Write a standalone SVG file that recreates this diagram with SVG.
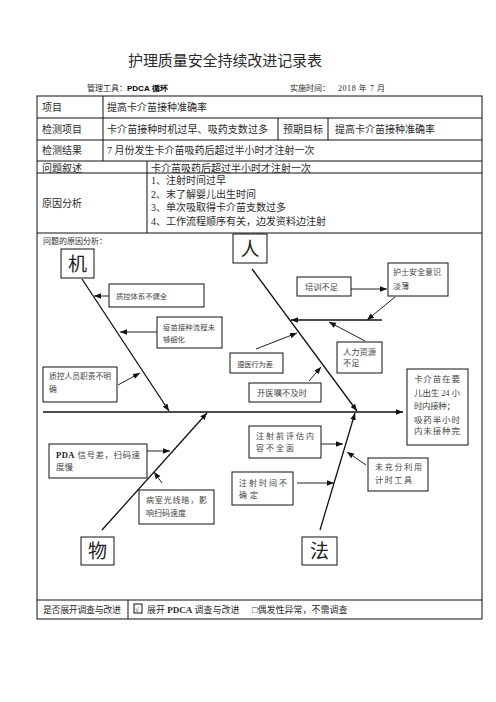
<svg xmlns="http://www.w3.org/2000/svg" width="496" height="702" viewBox="0 0 496 702">
<style>
.t{font-family:"Liberation Serif","Noto Sans CJK SC",serif;fill:#2a2a2a}
.tb{font-size:10px}
.bx{fill:#fff;stroke:#111;stroke-width:1}
.bt{font-family:"Liberation Serif","Noto Sans CJK SC",serif;fill:#444}
.big{font-family:"Liberation Serif","Noto Sans CJK SC",serif;font-size:19px;fill:#222;text-anchor:middle}
.ln{stroke:#111;stroke-width:1;fill:none}
.bone{stroke:#111;stroke-width:1.3;fill:none}
.ar{stroke:#222;stroke-width:1;fill:none;marker-end:url(#ah)}
</style>
<defs>
<marker id="ah" viewBox="0 0 10 10" refX="10" refY="5" markerWidth="7" markerHeight="7" markerUnits="userSpaceOnUse" orient="auto"><path d="M0,1 L10,5 L0,9 z" fill="#111"/></marker>
</defs>
<rect width="496" height="702" fill="#fff"/>
<g id="header">
<text class="t" x="128" y="66" font-size="15" textLength="194">护理质量安全持续改进记录表</text>
<text class="t" x="87" y="91" font-size="8" fill="#444">管理工具：<tspan font-family="Liberation Sans,Arial,sans-serif" font-weight="bold" fill="#000">PDCA 循环</tspan></text>
<text class="t" x="290" y="91" font-size="8">实施时间：</text>
<text class="t" x="338" y="91" font-size="8" textLength="47">2018 年 7 月</text>
</g>
<g id="table">
<rect x="37" y="96" width="445" height="523" class="ln"/>
<path class="ln" d="M37,118H482M37,140H482M37,161H482M37,173H482M37,233H482M37,600H482M103,96V161M278,118V140M328,118V140M147,161V233M128,600V619"/>
<text class="t tb" x="42" y="111">项目</text>
<text class="t tb" x="107" y="111">提高卡介苗接种准确率</text>
<text class="t tb" x="42" y="133">检测项目</text>
<text class="t tb" x="107" y="133" textLength="161">卡介苗接种时机过早、吸药支数过多</text>
<text class="t tb" x="283" y="133">预期目标</text>
<text class="t tb" x="335" y="133">提高卡介苗接种准确率</text>
<text class="t tb" x="42" y="154">检测结果</text>
<text class="t tb" x="107" y="154">7 月份发生卡介苗吸药后超过半小时才注射一次</text>
<text class="t tb" x="42" y="171.5">问题叙述</text>
<text class="t tb" x="151" y="171.5">卡介苗吸药后超过半小时才注射一次</text>
<text class="t tb" x="42" y="207">原因分析</text>
<text class="t tb" x="151" y="184">1、注射时间过早</text>
<text class="t tb" x="151" y="198">2、末了解婴儿出生时间</text>
<text class="t tb" x="151" y="211">3、单次吸取得卡介苗支数过多</text>
<text class="t tb" x="151" y="225">4、工作流程顺序有关，边发资料边注射</text>
<text class="t" x="43" y="244" font-size="8" fill="#444">问题的原因分析：</text>
<text class="t" x="43" y="612.5" font-size="9" textLength="78">是否展开调查与改进</text>
<rect x="134" y="604" width="8" height="9" class="ln"/>
<text class="t" x="135" y="612" font-size="8">√</text>
<text class="t" x="147" y="612.5" font-size="9">展开 <tspan font-weight="bold">PDCA</tspan> 调查与改进</text>
<text class="t" x="252" y="612.5" font-size="9">□偶发性异常，不需调查</text>
</g>
<g id="connectors">
<line class="bone" x1="43" y1="412" x2="403" y2="412" marker-end="url(#ah)"/>
<line class="bone" x1="82" y1="279" x2="169" y2="411" marker-end="url(#ah)"/>
<line class="bone" x1="252" y1="269" x2="357" y2="411" marker-end="url(#ah)"/>
<line class="bone" x1="102" y1="530" x2="207" y2="413" marker-end="url(#ah)"/>
<line class="bone" x1="320" y1="530" x2="355" y2="413" marker-end="url(#ah)"/>
<line class="bone" x1="382" y1="320" x2="291" y2="320" marker-end="url(#ah)"/>
<line class="ar" x1="109" y1="296" x2="94" y2="296"/>
<line class="ar" x1="157" y1="332" x2="120" y2="332" stroke="#666" stroke-width="1.8"/>
<line class="ar" x1="118" y1="385" x2="140" y2="373"/>
<line class="ar" x1="147" y1="451" x2="170" y2="451"/>
<line class="ar" x1="162" y1="483" x2="154" y2="472"/>
<line class="ar" x1="351" y1="289" x2="387" y2="289"/>
<line class="ar" x1="395" y1="297" x2="367" y2="320"/>
<line class="ar" x1="365" y1="341" x2="329" y2="322"/>
<line class="ar" x1="256" y1="349" x2="297" y2="333"/>
<line class="ar" x1="309" y1="381" x2="321" y2="367"/>
<line class="ar" x1="321" y1="444" x2="343" y2="444"/>
<line class="ar" x1="366" y1="465" x2="347" y2="452"/>
<line class="ar" x1="297" y1="483" x2="334" y2="483"/>
</g>
<g id="n-ji"><rect class="bx" x="61" y="249" width="33" height="29"/><text class="big" x="77.5" y="271">机</text></g>
<g id="n-ren"><rect class="bx" x="233" y="234" width="34" height="29"/><text class="big" x="250" y="256">人</text></g>
<g id="n-wu"><rect class="bx" x="81" y="537" width="33" height="28"/><text class="big" x="97.5" y="558">物</text></g>
<g id="n-fa"><rect class="bx" x="302" y="537" width="35" height="28"/><text class="big" x="319.5" y="558">法</text></g>
<g id="n-result"><rect class="bx" x="407" y="369" width="61" height="76"/>
<text class="bt" font-size="8.5" x="414" y="382" textLength="46">卡介苗在要</text>
<text class="bt" font-size="8.5" x="414" y="396" textLength="46">儿出生 24 小</text>
<text class="bt" font-size="8.5" x="414" y="409" textLength="41">时内接种；</text>
<text class="bt" font-size="8.5" x="414" y="422.5" textLength="46">吸药半小时</text>
<text class="bt" font-size="8.5" x="414" y="434" textLength="46">内未接种完</text></g>
<g id="n-c1"><rect class="bx" x="109" y="284" width="95" height="23"/><text class="bt" font-size="7.3" x="116" y="299" textLength="51">质控体系不健全</text></g>
<g id="n-c2"><rect class="bx" x="157" y="317" width="65" height="31"/><text class="bt" font-size="7.3" x="163" y="330" textLength="52">疫苗接种流程未</text><text class="bt" font-size="7.3" x="163" y="342">够细化</text></g>
<g id="n-c3"><rect class="bx" x="43" y="367" width="74" height="35"/><text class="bt" font-size="7.8" x="49" y="379" textLength="62">质控人员职责不明</text><text class="bt" font-size="7.8" x="49" y="392">确</text></g>
<g id="n-c4"><rect class="bx" x="49" y="444" width="98" height="34"/><text class="bt" font-size="8.5" x="56" y="458" textLength="84"><tspan font-weight="bold" fill="#222">PDA</tspan> 信号差，扫码速</text><text class="bt" font-size="8.5" x="56" y="470">度慢</text></g>
<g id="n-c5"><rect class="bx" x="139" y="490" width="75" height="34"/><text class="bt" font-size="8" x="146" y="503" textLength="61">病室光线暗，影</text><text class="bt" font-size="8" x="146" y="516">响扫码速度</text></g>
<g id="n-c6"><rect class="bx" x="297" y="277" width="54" height="19"/><text class="bt" font-size="8.3" x="305" y="290" textLength="33">培训不足</text></g>
<g id="n-c7"><rect class="bx" x="388" y="263" width="60" height="33"/><text class="bt" font-size="8" x="393" y="275" textLength="48">护士安全意识</text><text class="bt" font-size="8" x="393" y="289">淡薄</text></g>
<g id="n-c8"><rect class="bx" x="337" y="342" width="45" height="31"/><text class="bt" font-size="8.3" x="343" y="355" textLength="33">人力资源</text><text class="bt" font-size="8.3" x="343" y="366">不足</text></g>
<g id="n-c9"><rect class="bx" x="230" y="353" width="53" height="20"/><text class="bt" font-size="7.3" x="237" y="367" textLength="36">遵医行为差</text></g>
<g id="n-c10"><rect class="bx" x="249" y="383" width="72" height="19"/><text class="bt" font-size="8.3" x="257" y="396" textLength="50">开医嘱不及时</text></g>
<g id="n-c11"><rect class="bx" x="249" y="426" width="72" height="32"/><text class="bt" font-size="8" x="256" y="438.5" textLength="58">注射前评估内</text><text class="bt" font-size="8" x="256" y="451" textLength="38">容不全面</text></g>
<g id="n-c12"><rect class="bx" x="368" y="458" width="60" height="33"/><text class="bt" font-size="8" x="375" y="470" textLength="47">未充分利用</text><text class="bt" font-size="8" x="375" y="483" textLength="37">计时工具</text></g>
<g id="n-c13"><rect class="bx" x="232" y="472" width="61" height="33"/><text class="bt" font-size="8" x="239" y="486" textLength="48">注射时间不</text><text class="bt" font-size="8" x="239" y="498" textLength="19">确定</text></g>
</svg>
